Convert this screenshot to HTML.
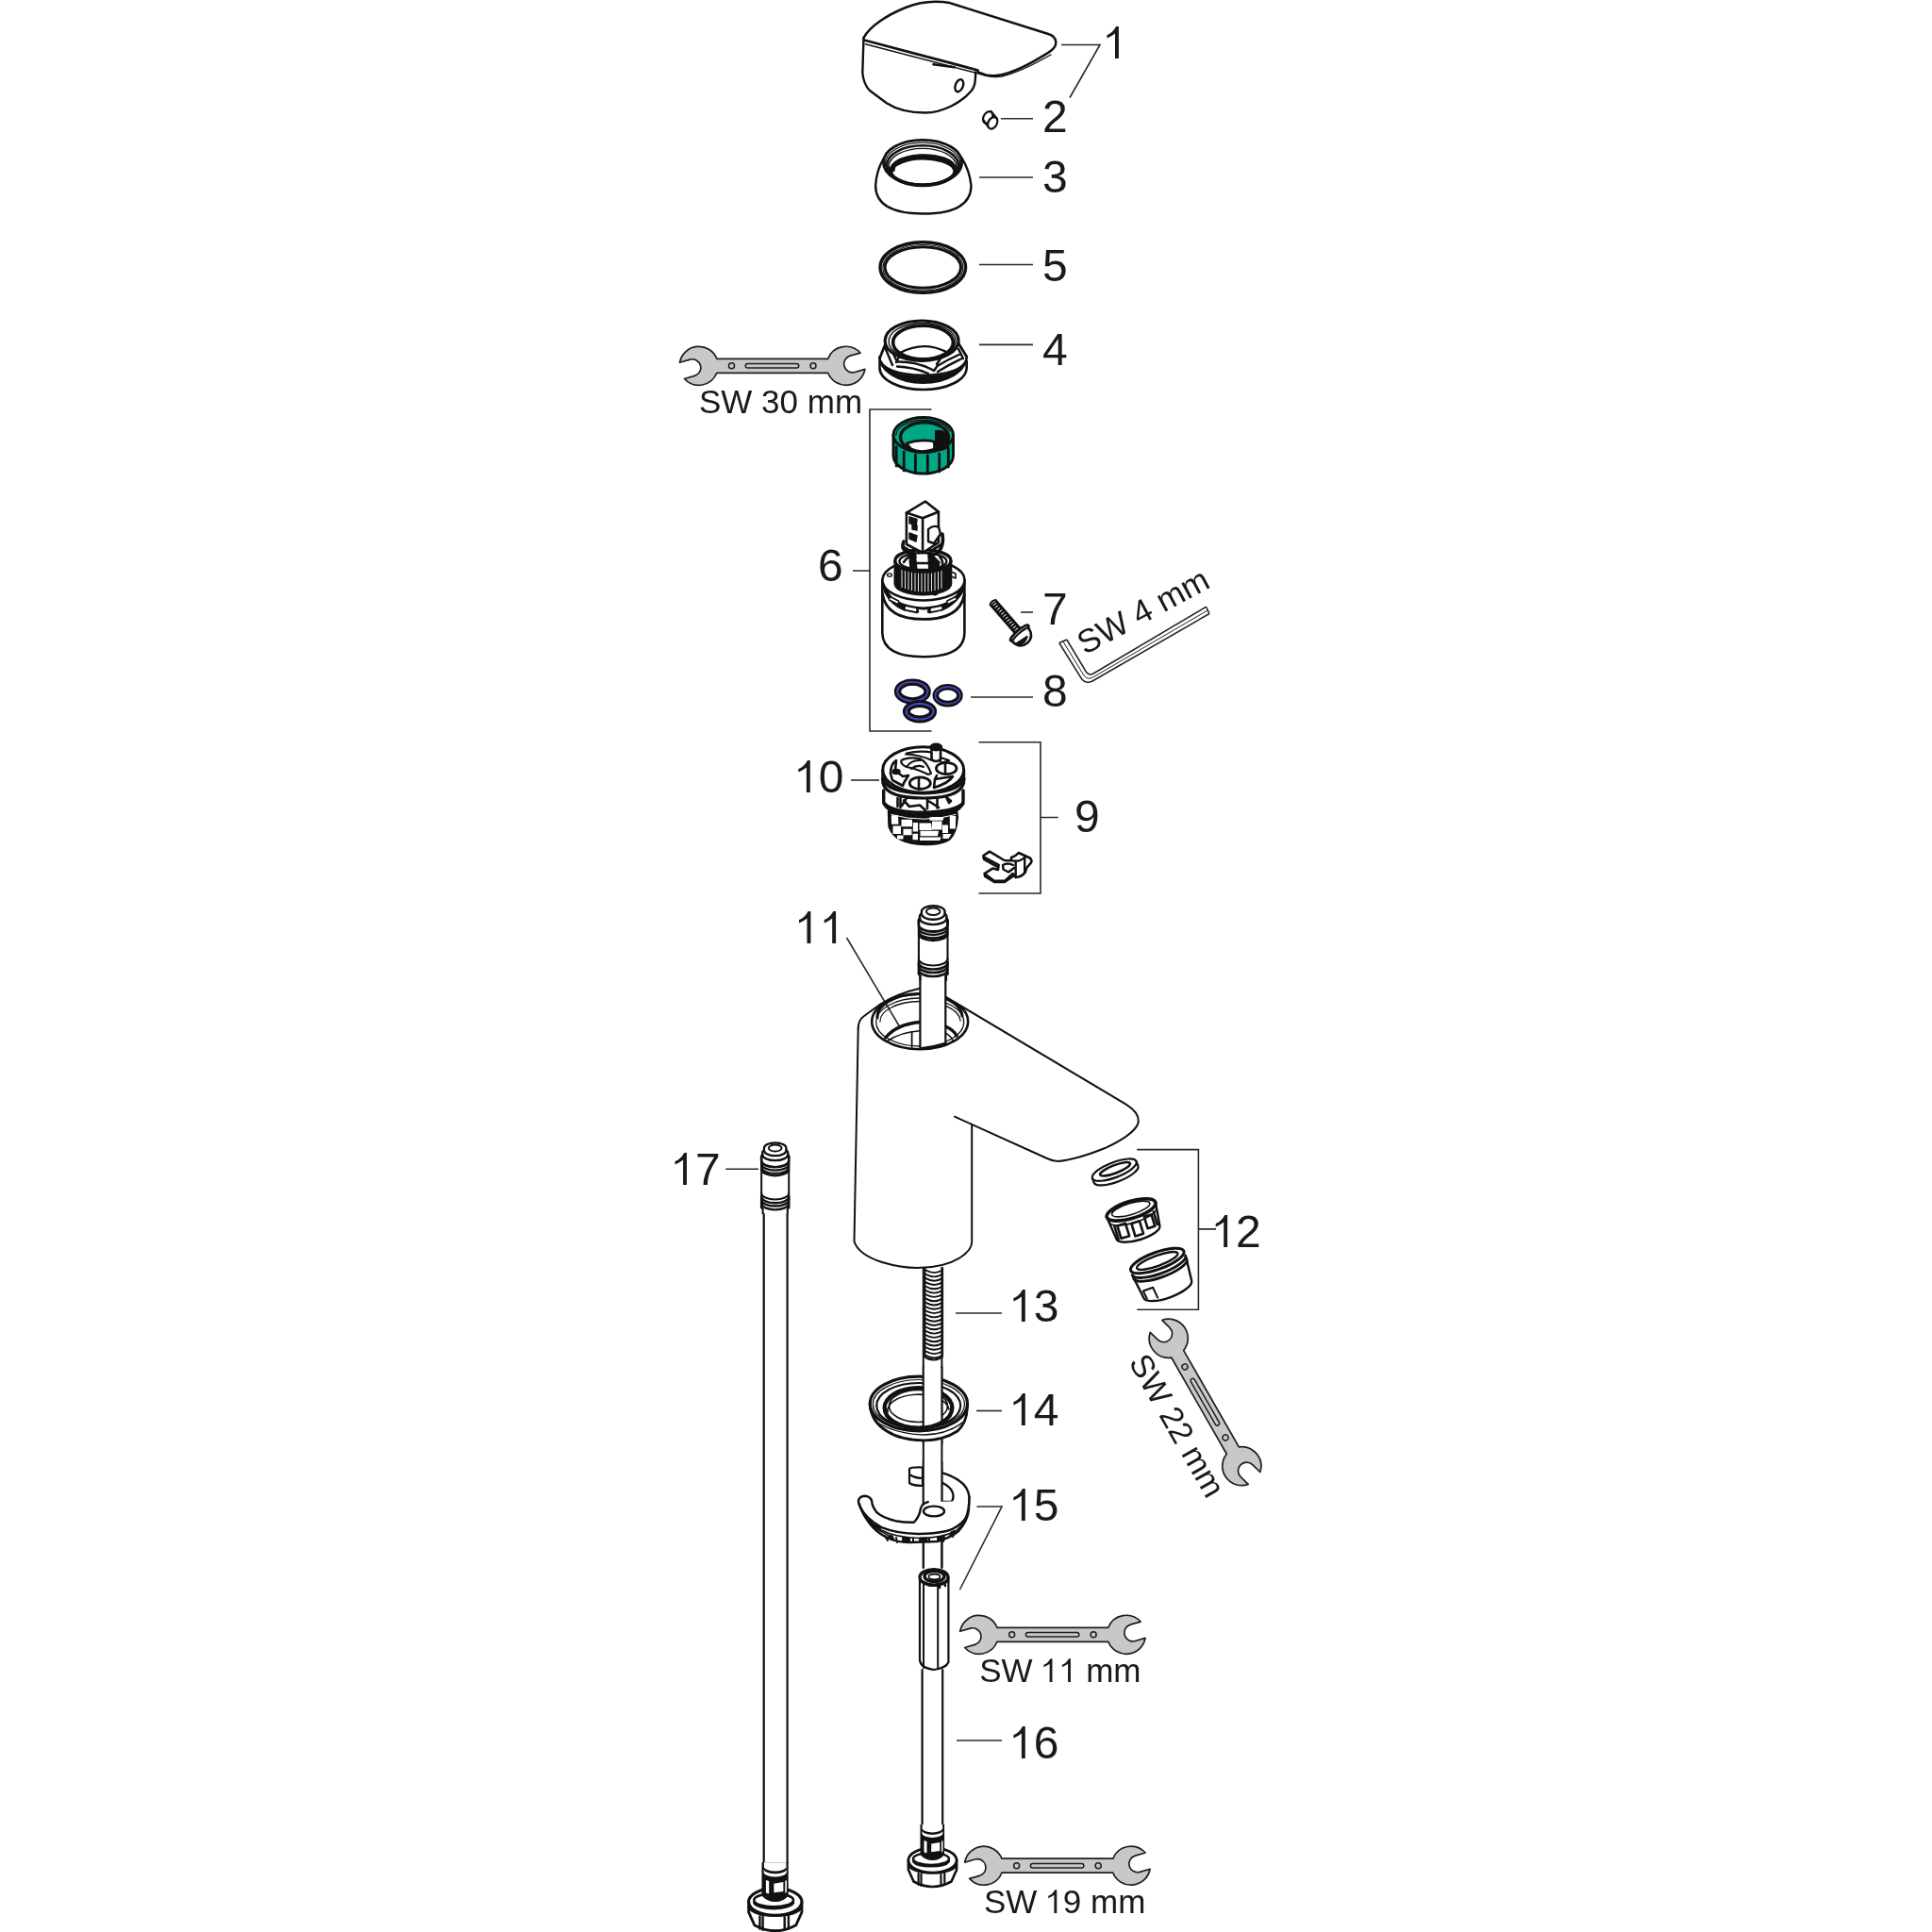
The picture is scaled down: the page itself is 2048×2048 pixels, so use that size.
<!DOCTYPE html>
<html><head><meta charset="utf-8"><style>
html,body{margin:0;padding:0;background:#fff;}
svg{display:block;will-change:transform;}
text{font-family:"Liberation Sans",sans-serif;fill:#1a1a1a;}
</style></head><body>
<svg width="2048" height="2048" viewBox="0 0 2048 2048">
<rect width="2048" height="2048" fill="#fff"/>
<path d="M3.9,0 V-34 H1.2 Q-1,-30 -4,-27.5 Q-6,-26 -8.5,-25 V-21.6 Q-5.8,-22.7 -3.2,-24.2 Q-1.2,-25.4 0,-26.5 V0 Z" transform="translate(1182.00,62) scale(1.0000)" fill="#1a1a1a"/>
<text x="1105" y="140" font-size="48" text-anchor="start" >2</text>
<text x="1105" y="204" font-size="48" text-anchor="start" >3</text>
<text x="1105" y="298" font-size="48" text-anchor="start" >5</text>
<text x="1105" y="387" font-size="48" text-anchor="start" >4</text>
<text x="867" y="616" font-size="48" text-anchor="start" >6</text>
<text x="1105" y="662" font-size="48" text-anchor="start" >7</text>
<text x="1105" y="749" font-size="48" text-anchor="start" >8</text>
<text x="1139" y="882" font-size="48" text-anchor="start" >9</text>
<path d="M3.9,0 V-34 H1.2 Q-1,-30 -4,-27.5 Q-6,-26 -8.5,-25 V-21.6 Q-5.8,-22.7 -3.2,-24.2 Q-1.2,-25.4 0,-26.5 V0 Z" transform="translate(854.90,840) scale(1.0000)" fill="#1a1a1a"/><text x="867.79" y="840" font-size="48">0</text>
<path d="M3.9,0 V-34 H1.2 Q-1,-30 -4,-27.5 Q-6,-26 -8.5,-25 V-21.6 Q-5.8,-22.7 -3.2,-24.2 Q-1.2,-25.4 0,-26.5 V0 Z" transform="translate(855.50,1000) scale(1.0000)" fill="#1a1a1a"/><path d="M3.9,0 V-34 H1.2 Q-1,-30 -4,-27.5 Q-6,-26 -8.5,-25 V-21.6 Q-5.8,-22.7 -3.2,-24.2 Q-1.2,-25.4 0,-26.5 V0 Z" transform="translate(882.19,1000) scale(1.0000)" fill="#1a1a1a"/>
<path d="M3.9,0 V-34 H1.2 Q-1,-30 -4,-27.5 Q-6,-26 -8.5,-25 V-21.6 Q-5.8,-22.7 -3.2,-24.2 Q-1.2,-25.4 0,-26.5 V0 Z" transform="translate(1297.20,1322) scale(1.0000)" fill="#1a1a1a"/><text x="1310.09" y="1322" font-size="48">2</text>
<path d="M3.9,0 V-34 H1.2 Q-1,-30 -4,-27.5 Q-6,-26 -8.5,-25 V-21.6 Q-5.8,-22.7 -3.2,-24.2 Q-1.2,-25.4 0,-26.5 V0 Z" transform="translate(1082.90,1401) scale(1.0000)" fill="#1a1a1a"/><text x="1095.79" y="1401" font-size="48">3</text>
<path d="M3.9,0 V-34 H1.2 Q-1,-30 -4,-27.5 Q-6,-26 -8.5,-25 V-21.6 Q-5.8,-22.7 -3.2,-24.2 Q-1.2,-25.4 0,-26.5 V0 Z" transform="translate(1082.90,1511) scale(1.0000)" fill="#1a1a1a"/><text x="1095.79" y="1511" font-size="48">4</text>
<path d="M3.9,0 V-34 H1.2 Q-1,-30 -4,-27.5 Q-6,-26 -8.5,-25 V-21.6 Q-5.8,-22.7 -3.2,-24.2 Q-1.2,-25.4 0,-26.5 V0 Z" transform="translate(1082.90,1612) scale(1.0000)" fill="#1a1a1a"/><text x="1095.79" y="1612" font-size="48">5</text>
<path d="M3.9,0 V-34 H1.2 Q-1,-30 -4,-27.5 Q-6,-26 -8.5,-25 V-21.6 Q-5.8,-22.7 -3.2,-24.2 Q-1.2,-25.4 0,-26.5 V0 Z" transform="translate(1082.90,1864) scale(1.0000)" fill="#1a1a1a"/><text x="1095.79" y="1864" font-size="48">6</text>
<path d="M3.9,0 V-34 H1.2 Q-1,-30 -4,-27.5 Q-6,-26 -8.5,-25 V-21.6 Q-5.8,-22.7 -3.2,-24.2 Q-1.2,-25.4 0,-26.5 V0 Z" transform="translate(724.10,1256) scale(1.0000)" fill="#1a1a1a"/><text x="736.99" y="1256" font-size="48">7</text>
<g fill="none" stroke="#2a2a2a" stroke-width="1.6"><path d="M1125,47.5 H1166 L1134,103.5"/><path d="M1061,125.7 H1095"/><path d="M1038,188 H1095"/><path d="M1038,280.5 H1095"/><path d="M1038,365.4 H1095"/><path d="M987.5,434 H922 V775 H987.5 M904,605 H922"/><path d="M1082,649 H1095"/><path d="M1029,739 H1095"/><path d="M1037.5,786.7 H1103 V947 H1037.5 M1103,866.5 H1121.7"/><path d="M902,827 H932"/><path d="M897.5,994 L954,1089"/><path d="M1205.2,1218.6 H1270.4 V1388.2 H1205.2 M1270.4,1302.9 H1289"/><path d="M1013,1392 H1062"/><path d="M1035,1495.5 H1062"/><path d="M1035.5,1597 H1062 L1017.5,1685"/><path d="M1014,1845 H1062"/><path d="M769.2,1239.3 H803.9"/></g>
<g transform="translate(740.75,387.8) rotate(0)"><path d="M-20.19,-3.57 A20.5,20.5 0 0 1 19.08,-7.50 L136.92,-7.50 A20.5,20.5 0 0 1 171.22,-13.73 L160.44,-10.64 A9.0,9.0 0 0 0 154.27,0.50 A9.0,9.0 0 0 0 165.40,6.67 L176.19,3.57 A20.5,20.5 0 0 1 136.92,7.50 L19.08,7.50 A20.5,20.5 0 0 1 -15.22,13.73 L-4.44,10.64 A9.0,9.0 0 0 0 1.73,-0.50 A9.0,9.0 0 0 0 -9.40,-6.67 Z" fill="#c8c8c8" stroke="#1e1e1e" stroke-width="1.7" stroke-linejoin="round"/><circle cx="34.75" cy="0" r="3" fill="#c8c8c8" stroke="#1e1e1e" stroke-width="1.5"/><circle cx="121.25" cy="0" r="3" fill="#c8c8c8" stroke="#1e1e1e" stroke-width="1.5"/><rect x="49.5" y="-2.3" width="56.5" height="4.6" rx="2.3" fill="#c8c8c8" stroke="#1e1e1e" stroke-width="1.5"/></g>
<g transform="translate(1037.9,1732.8) rotate(0)"><path d="M-20.19,-3.57 A20.5,20.5 0 0 1 19.08,-7.50 L136.92,-7.50 A20.5,20.5 0 0 1 171.22,-13.73 L160.44,-10.64 A9.0,9.0 0 0 0 154.27,0.50 A9.0,9.0 0 0 0 165.40,6.67 L176.19,3.57 A20.5,20.5 0 0 1 136.92,7.50 L19.08,7.50 A20.5,20.5 0 0 1 -15.22,13.73 L-4.44,10.64 A9.0,9.0 0 0 0 1.73,-0.50 A9.0,9.0 0 0 0 -9.40,-6.67 Z" fill="#c8c8c8" stroke="#1e1e1e" stroke-width="1.7" stroke-linejoin="round"/><circle cx="34.75" cy="0" r="3" fill="#c8c8c8" stroke="#1e1e1e" stroke-width="1.5"/><circle cx="121.25" cy="0" r="3" fill="#c8c8c8" stroke="#1e1e1e" stroke-width="1.5"/><rect x="49.5" y="-2.3" width="56.5" height="4.6" rx="2.3" fill="#c8c8c8" stroke="#1e1e1e" stroke-width="1.5"/></g>
<g transform="translate(1042.9,1977.7) rotate(0)"><path d="M-20.19,-3.57 A20.5,20.5 0 0 1 19.08,-7.50 L136.92,-7.50 A20.5,20.5 0 0 1 171.22,-13.73 L160.44,-10.64 A9.0,9.0 0 0 0 154.27,0.50 A9.0,9.0 0 0 0 165.40,6.67 L176.19,3.57 A20.5,20.5 0 0 1 136.92,7.50 L19.08,7.50 A20.5,20.5 0 0 1 -15.22,13.73 L-4.44,10.64 A9.0,9.0 0 0 0 1.73,-0.50 A9.0,9.0 0 0 0 -9.40,-6.67 Z" fill="#c8c8c8" stroke="#1e1e1e" stroke-width="1.7" stroke-linejoin="round"/><circle cx="34.75" cy="0" r="3" fill="#c8c8c8" stroke="#1e1e1e" stroke-width="1.5"/><circle cx="121.25" cy="0" r="3" fill="#c8c8c8" stroke="#1e1e1e" stroke-width="1.5"/><rect x="49.5" y="-2.3" width="56.5" height="4.6" rx="2.3" fill="#c8c8c8" stroke="#1e1e1e" stroke-width="1.5"/></g>
<g transform="translate(1238.75,1418.75) rotate(60.2)"><path d="M-20.19,-3.57 A20.5,20.5 0 0 1 19.08,-7.50 L136.92,-7.50 A20.5,20.5 0 0 1 171.22,-13.73 L160.44,-10.64 A9.0,9.0 0 0 0 154.27,0.50 A9.0,9.0 0 0 0 165.40,6.67 L176.19,3.57 A20.5,20.5 0 0 1 136.92,7.50 L19.08,7.50 A20.5,20.5 0 0 1 -15.22,13.73 L-4.44,10.64 A9.0,9.0 0 0 0 1.73,-0.50 A9.0,9.0 0 0 0 -9.40,-6.67 Z" fill="#c8c8c8" stroke="#1e1e1e" stroke-width="1.7" stroke-linejoin="round"/><circle cx="34.75" cy="0" r="3" fill="#c8c8c8" stroke="#1e1e1e" stroke-width="1.5"/><circle cx="121.25" cy="0" r="3" fill="#c8c8c8" stroke="#1e1e1e" stroke-width="1.5"/><rect x="49.5" y="-2.3" width="56.5" height="4.6" rx="2.3" fill="#c8c8c8" stroke="#1e1e1e" stroke-width="1.5"/></g>
<text x="741" y="438" font-size="35" text-anchor="start" >SW 30 mm</text>
<text x="1038.20" y="1783" font-size="35">SW </text><path d="M3.9,0 V-34 H1.2 Q-1,-30 -4,-27.5 Q-6,-26 -8.5,-25 V-21.6 Q-5.8,-22.7 -3.2,-24.2 Q-1.2,-25.4 0,-26.5 V0 Z" transform="translate(1112.63,1783) scale(0.7292)" fill="#1a1a1a"/><path d="M3.9,0 V-34 H1.2 Q-1,-30 -4,-27.5 Q-6,-26 -8.5,-25 V-21.6 Q-5.8,-22.7 -3.2,-24.2 Q-1.2,-25.4 0,-26.5 V0 Z" transform="translate(1132.09,1783) scale(0.7292)" fill="#1a1a1a"/><text x="1151.22" y="1783" font-size="35">mm</text>
<text x="1043.00" y="2028" font-size="35">SW </text><path d="M3.9,0 V-34 H1.2 Q-1,-30 -4,-27.5 Q-6,-26 -8.5,-25 V-21.6 Q-5.8,-22.7 -3.2,-24.2 Q-1.2,-25.4 0,-26.5 V0 Z" transform="translate(1117.43,2028) scale(0.7292)" fill="#1a1a1a"/><text x="1126.83" y="2028" font-size="35">9 mm</text>
<text x="0" y="0" font-size="34" text-anchor="start" transform="translate(1196,1444) rotate(60.2)">SW 22 mm</text>
<text x="0" y="0" font-size="34.8" text-anchor="start" transform="translate(1150,694.5) rotate(-28.3)">SW 4 mm</text>
<g fill="none" stroke="#222" stroke-width="1.5"><path d="M1122.8,681.5 L1146.5,719.5 Q1151,725.5 1158,722 L1282,650.5"/><path d="M1130.8,678 L1151.5,712.5 Q1154.5,716.5 1159,714 L1278.6,643.2"/><path d="M1122.8,681.5 L1130.8,678 M1282,650.5 L1278.6,643.2"/><path d="M1126.8,679.8 L1149,716 Q1152.8,721 1158.5,718 L1280.3,646.9" stroke-width="1"/></g>
<g fill="none" stroke="#111" stroke-width="2" stroke-linejoin="round" stroke-linecap="round"><path d="M915.5,40 C922,28 940,16 960,8 C975,2 990,0 1006.8,3.1 L1111.2,36 C1121,39 1123,49 1111.2,55.9 C1095,66 1075,77 1060.2,79.5 C1055,80.5 1050,80.5 1045,79.5 L1036.6,76.4" stroke-width="2.5"/><path d="M916,42.5 L1036.6,74.5" stroke-width="2.8"/><path d="M917.4,46.8 L1036.6,77.8 C1045,81 1055,82 1062,81 C1080,77 1100,66 1114,58" stroke-width="1.4"/><path d="M915.5,40 L914.3,77 C915,85 918,92 922,96 L939.8,109.3 C950,116 965,119.5 980.7,119.5 C1000,119.5 1020,108 1030,96 C1033,92 1034,88 1034.2,76.4" stroke-width="2.4"/><ellipse cx="1016.8" cy="90.7" rx="4" ry="6.8" transform="rotate(20 1016.8 90.7)" stroke-width="2.4"/><path d="M989.4,68.2 L1011.8,71.2" stroke-width="2.6"/><ellipse cx="1047.2" cy="124.5" rx="4.6" ry="6.8" transform="rotate(28 1047.2 124.5)" stroke-width="2.2"/><path d="M1050.5,118 L1057,126 M1042.5,127.5 L1048.5,135.5" stroke-width="2.2"/><ellipse cx="1052.2" cy="130.3" rx="4.6" ry="6.6" transform="rotate(28 1052.2 130.3)" fill="#fff" stroke-width="2.2"/><path d="M936.4,168.5 Q929,181 928.1,197 Q928.5,226.5 978.5,226.5 Q1029,226.5 1029.5,197 Q1028,181 1019.5,167.3" stroke-width="2.4"/><ellipse cx="978" cy="172.3" rx="41.6" ry="24" stroke-width="2.8"/><ellipse cx="978" cy="173.6" rx="39.6" ry="22.4" stroke-width="1.3"/><ellipse cx="978" cy="175" rx="37.8" ry="20.8" stroke-width="2.6"/><ellipse cx="978" cy="176.5" rx="35.8" ry="19.2" stroke-width="1.3"/><path d="M944,180 A36,17 0 0 1 1012,178" stroke-width="4"/><ellipse cx="978.2" cy="181" rx="33.9" ry="15.4" stroke-width="3.6"/><path d="M946.6,180 A32.5,13.5 0 0 1 1011.6,178" stroke-width="4.6"/><ellipse cx="978.3" cy="283.5" rx="45.3" ry="26.8" stroke-width="3.4"/><ellipse cx="978.3" cy="283.8" rx="42.5" ry="24.3" stroke-width="1.2"/><ellipse cx="978.3" cy="283.5" rx="40.2" ry="21.7" stroke-width="3"/><path d="M932.5,383 V390 A46.1,23 0 0 0 1024.7,390 V383" fill="#fff" stroke-width="2.6"/><path d="M932.4,378 A46.15,28 0 0 0 1024.7,378 L1024.7,381 A46.15,16.5 0 0 1 932.4,381 Z" fill="#111" stroke-width="2"/><path d="M937,385 A42,16.5 0 0 0 1020,385" stroke="#fff" stroke-width="0.8"/><path d="M932.4,378 A46.15,21 0 0 0 1024.7,378" stroke-width="2"/><path d="M938,366 L932.4,380 M1016,364 L1024.7,378" stroke-width="2.8"/><path d="M938,368 L946,387 M942,365 L951,383.5 Q970,383 986.5,391 M951,388.5 Q968,389 984,396 M986.5,391 L990,393 L993.5,388 Q1005,381 1018.5,375 M994,394 Q1007,386 1020,380 M1002,373 L993,386 M1016,370 L1021,380 M957,371 L950,384" stroke-width="2.4"/><ellipse cx="977.1" cy="361.2" rx="39" ry="21.2" fill="#fff" stroke-width="3.2"/><ellipse cx="977.6" cy="362" rx="35.5" ry="19.5" stroke-width="1.4"/><path d="M954.6,373.8 Q978.5,361 1002.4,372.7" stroke-width="2.4"/><ellipse cx="978.5" cy="362.9" rx="31.9" ry="17.8" stroke-width="3.6"/><path d="M909.7,1090 Q910,1081 916,1077 L933.5,1064.3 Q952,1053 975,1047.8" /><path d="M1002.3,1056.6 L1193.6,1170.6 Q1210,1181 1206,1192 Q1200,1204 1170.8,1217.3 Q1140,1229.5 1121.9,1231 Q1116,1231 1110,1228 L1012,1183.7" /><path d="M909.7,1090 L905.5,1316 Q910,1330 935,1338 Q955,1344 972.5,1344 Q1000,1344 1018,1333 Q1030,1325 1030.2,1317 V1191.7" /><ellipse cx="975.2" cy="1083" rx="51" ry="29.3" stroke-width="2.6"/><ellipse cx="975.2" cy="1083.5" rx="46.5" ry="25.5" stroke-width="1.3"/><path d="M930,1079 A45,24.5 0 0 1 1020,1077" stroke-width="3"/><path d="M933,1083 A42.5,21 0 0 1 1018,1082" stroke-width="1.3"/><path d="M938.7,1100 Q950,1086 974.9,1083.5" stroke-width="3.4"/><path d="M1002.3,1088 Q1011,1092 1014.2,1098" stroke-width="3.4"/><path d="M939.7,1104 Q955,1094 974.9,1092.8 M1002,1095 Q1008,1098 1010,1103" stroke-width="1.6"/><path d="M966.6,1093.8 V1110.4" stroke-width="1.8"/><path d="M975.4,1038 V1111.5 L1002.3,1106 V1038 Z" fill="#fff" stroke="none"/><path d="M975.4,1031 V1111.5 M1002.3,1031 V1106" stroke-width="2.2"/><path d="M975.4,1111.5 Q990,1110 1002.3,1106" stroke-width="2.4"/><g transform="translate(989.2,966.5) scale(1.0)"><path d="M-15.3,8 V67 H15.3 V8 Z" fill="#fff" stroke="none"/><path d="M-12.4,0 A12.4,6.3 0 0 1 12.4,0 V2 A12.4,6.3 0 0 1 -12.4,2 Z" fill="#fff" stroke-width="2.4"/><ellipse cx="0" cy="-0.3" rx="7.3" ry="3.7" stroke-width="2"/><path d="M-12.4,2 L-14.2,4 V7 A14.2,6.6 0 0 0 14.2,7 V4 L12.4,2" stroke-width="2.4"/><path d="M-14.2,7 L-15.3,9 V14 A15.3,7 0 0 0 15.3,14 V9 L14.2,7" stroke-width="2.8"/><path d="M-15.3,17.5 A15.3,7 0 0 0 15.3,17.5 M-15.3,21 A15.3,7 0 0 0 15.3,21 M-15.2,23.5 A15.2,7 0 0 0 15.2,23.5" stroke-width="2.4"/><path d="M-15.3,9 V57 M15.3,9 V57" stroke-width="2.1"/><path d="M-15.3,50 A15.3,7 0 0 0 15.3,50" stroke-width="2.1"/><path d="M-15.3,54 V66 M15.3,54 V66 M-15.3,54 A15.3,7 0 0 0 15.3,54 M-15.3,57.5 A15.3,7 0 0 0 15.3,57.5 M-15.2,61.5 A15.2,7 0 0 0 15.2,61.5" stroke-width="2.6"/><path d="M-15.2,66 L-13.8,67.5 V72.5 M15.2,66 L13.8,67.5 V72.5" stroke-width="2.2"/></g><path d="M809.7,1287 V1975 M834.6,1287 V1975" stroke-width="2.2"/><g transform="translate(821.7,1217.3) scale(0.95)"><path d="M-15.3,8 V67 H15.3 V8 Z" fill="#fff" stroke="none"/><path d="M-12.4,0 A12.4,6.3 0 0 1 12.4,0 V2 A12.4,6.3 0 0 1 -12.4,2 Z" fill="#fff" stroke-width="2.4"/><ellipse cx="0" cy="-0.3" rx="7.3" ry="3.7" stroke-width="2"/><path d="M-12.4,2 L-14.2,4 V7 A14.2,6.6 0 0 0 14.2,7 V4 L12.4,2" stroke-width="2.4"/><path d="M-14.2,7 L-15.3,9 V14 A15.3,7 0 0 0 15.3,14 V9 L14.2,7" stroke-width="2.8"/><path d="M-15.3,17.5 A15.3,7 0 0 0 15.3,17.5 M-15.3,21 A15.3,7 0 0 0 15.3,21 M-15.2,23.5 A15.2,7 0 0 0 15.2,23.5" stroke-width="2.4"/><path d="M-15.3,9 V57 M15.3,9 V57" stroke-width="2.1"/><path d="M-15.3,50 A15.3,7 0 0 0 15.3,50" stroke-width="2.1"/><path d="M-15.3,54 V66 M15.3,54 V66 M-15.3,54 A15.3,7 0 0 0 15.3,54 M-15.3,57.5 A15.3,7 0 0 0 15.3,57.5 M-15.2,61.5 A15.2,7 0 0 0 15.2,61.5" stroke-width="2.6"/><path d="M-15.2,66 L-13.8,67.5 V72.5 M15.2,66 L13.8,67.5 V72.5" stroke-width="2.2"/></g><path d="M978.8,1344 V1662 M998.4,1344 V1662" stroke-width="2"/><path d="M981.5,1346.5 Q990.2,1351.7 999,1346.5 M981.5,1350.8 Q990.2,1356.0 999,1350.8 M981.5,1355.1 Q990.2,1360.3 999,1355.1 M981.5,1359.4 Q990.2,1364.6 999,1359.4 M981.5,1363.7 Q990.2,1368.9 999,1363.7 M981.5,1368.0 Q990.2,1373.2 999,1368.0 M981.5,1372.3 Q990.2,1377.5 999,1372.3 M981.5,1376.6 Q990.2,1381.8 999,1376.6 M981.5,1380.9 Q990.2,1386.1 999,1380.9 M981.5,1385.2 Q990.2,1390.4 999,1385.2 M981.5,1389.5 Q990.2,1394.7 999,1389.5 M981.5,1393.8 Q990.2,1399.0 999,1393.8 M981.5,1398.1 Q990.2,1403.3 999,1398.1 M981.5,1402.4 Q990.2,1407.6 999,1402.4 M981.5,1406.7 Q990.2,1411.9 999,1406.7 M981.5,1411.0 Q990.2,1416.2 999,1411.0 M981.5,1415.3 Q990.2,1420.5 999,1415.3 M981.5,1419.6 Q990.2,1424.8 999,1419.6 M981.5,1423.9 Q990.2,1429.1 999,1423.9 M981.5,1428.2 Q990.2,1433.4 999,1428.2 M981.5,1432.5 Q990.2,1437.7 999,1432.5 M981.5,1436.8 Q990.2,1442.0 999,1436.8 " stroke-width="1.9"/><path d="M980.4,1344 V1438 Q983,1441 990,1441.5 Q996,1441 999,1438 V1344" stroke-width="2.2"/><path d="M975,1672 V1760 Q976,1768 990,1770 Q1003,1768 1005.4,1762 V1672" fill="#fff" stroke-width="2.2"/><path d="M979,1678 V1768 M994.2,1682 V1768" stroke-width="2"/><ellipse cx="990" cy="1672" rx="15" ry="8.5" fill="#fff" stroke-width="3.2"/><ellipse cx="990.5" cy="1671" rx="10.5" ry="5.5" stroke-width="3.4"/><ellipse cx="990.5" cy="1671.5" rx="6" ry="2.8" stroke-width="1.8"/><path d="M975.5,1675 Q990,1684 1005,1676 M996,1680 v3 M1001,1678 l1,3" stroke-width="2.6"/><path d="M977.6,1770 V1934 M999.2,1770 V1934" stroke-width="2.2"/><g transform="translate(988.5,1972) scale(1.0)"><path d="M-25.6,0 V10 L-20,22.5 Q-10,28 0,28 Q10,28 20,22.5 L25.6,10 V0 Z" fill="#fff" stroke-width="2.6"/><ellipse cx="0" cy="0" rx="25.6" ry="13.1" fill="#fff" stroke-width="2.8"/><path d="M-25.6,5 Q-22,13 0,13.5 Q22,13 25.6,5 M-14.9,14 V26 M-12,14.5 V27 M9,14.5 V27 M12.8,14 V26" stroke-width="2.2"/><ellipse cx="-1.5" cy="-1.6" rx="19" ry="6.5" stroke-width="2.4"/><path d="M-20,1 A19,6.5 0 0 0 17,1" stroke-width="3.2"/><path d="M-13,-38 V-6 Q-8,0 0,0 Q8,0 12.6,-6 V-38 Z" fill="#111" stroke="none"/><path d="M-10.8,-38 V-33.5 A10.8,4.5 0 0 0 10.6,-33.5 V-38 Z" fill="#fff" stroke="none"/><path d="M-11,-31 A11,4.5 0 0 0 10.8,-31 L10.8,-28 A11,4.5 0 0 1 -11,-28 Z" fill="#fff" stroke="none"/><path d="M-9,-21 L-6,-20 V-8 Q-8,-7.5 -9,-9 Z M-1.3,-17.4 L7.8,-19 V-10 L-1.3,-8.8 Z M9.5,-20 L11,-21 V-10 L9.5,-8 Z" fill="#fff" stroke="none"/></g><g transform="translate(821.8,2016) scale(1.1)"><path d="M-25.6,0 V10 L-20,22.5 Q-10,28 0,28 Q10,28 20,22.5 L25.6,10 V0 Z" fill="#fff" stroke-width="2.6"/><ellipse cx="0" cy="0" rx="25.6" ry="13.1" fill="#fff" stroke-width="2.8"/><path d="M-25.6,5 Q-22,13 0,13.5 Q22,13 25.6,5 M-14.9,14 V26 M-12,14.5 V27 M9,14.5 V27 M12.8,14 V26" stroke-width="2.2"/><ellipse cx="-1.5" cy="-1.6" rx="19" ry="6.5" stroke-width="2.4"/><path d="M-20,1 A19,6.5 0 0 0 17,1" stroke-width="3.2"/><path d="M-13,-38 V-6 Q-8,0 0,0 Q8,0 12.6,-6 V-38 Z" fill="#111" stroke="none"/><path d="M-10.8,-38 V-33.5 A10.8,4.5 0 0 0 10.6,-33.5 V-38 Z" fill="#fff" stroke="none"/><path d="M-11,-31 A11,4.5 0 0 0 10.8,-31 L10.8,-28 A11,4.5 0 0 1 -11,-28 Z" fill="#fff" stroke="none"/><path d="M-9,-21 L-6,-20 V-8 Q-8,-7.5 -9,-9 Z M-1.3,-17.4 L7.8,-19 V-10 L-1.3,-8.8 Z M9.5,-20 L11,-21 V-10 L9.5,-8 Z" fill="#fff" stroke="none"/></g><path d="M947,461 V483 A31.75,19 0 0 0 1010.5,483 V461 Z" fill="#00a887" stroke-width="2.9"/><ellipse cx="978.75" cy="461" rx="31.75" ry="18.5" fill="#00a887" stroke-width="2.9"/><ellipse cx="980" cy="463.5" rx="25.5" ry="15.8" fill="#00a887" stroke-width="3.4"/><path d="M950,461 A29,16 0 0 1 1007,457" stroke-width="1.2"/><path d="M961,470 Q975,465 990,468 L991,476 Q976,481 966,476 Z" fill="#fff" stroke-width="2.6"/><path d="M992,457 Q1000,456 1006,462 L1005,474 Q998,479 990,476 L992,466 Z" fill="#111" stroke-width="2"/><path d="M950.2,474 V494 M958.2,479 V499 M970.4,482 V501.5 M983.3,483 V502 M995.7,481 V500 M1005.3,475 V495" stroke-width="2.8"/><path d="M935.3,614.5 V671 Q936,696.2 978.9,696.2 Q1022,696.2 1022.4,671 V614.5" fill="#fff" stroke-width="2.6"/><path d="M935.5,630 Q940,656.4 978.9,656.4 Q1018,656.4 1022.2,630" stroke-width="2.8"/><ellipse cx="978.9" cy="615" rx="43.6" ry="21.5" fill="#fff" stroke-width="2.6"/><path d="M936,619 Q942,643 978.9,645 Q1016,643 1022,619" stroke-width="3"/><path d="M939,627 Q946,640 958,645 L972,648 M985,648 L999,645 Q1011,640 1019,627" stroke-width="4.5"/><path d="M942.5,632 l10,5 v4 l-10,-5 z M959,642 l13,2.5 v4.5 l-13,-2.5 z M986,644.5 l13,-2.5 v4.5 l-13,2.5 z M1004,637 l10,-5 v4 l-10,5 z" fill="#fff" stroke-width="1.6"/><ellipse cx="943" cy="609.5" rx="2.4" ry="1.6" stroke-width="1.4"/><ellipse cx="991" cy="629" rx="2.6" ry="1.7" stroke-width="1.4"/><path d="M1008,606 l5,2 v5 l-5,-2 z" fill="#fff" stroke-width="1.6"/><path d="M948.8,594.4 V618.7 A29.6,11.6 0 0 0 1008,618.7 V594.4 Z" fill="#111" stroke-width="2.6"/><path d="M956.0,603.6 V622.4 M959.5,604.6 V623.7 M963.0,605.4 V624.8 M966.5,606.0 V625.7 M970.0,606.5 V626.4 M973.5,606.8 V626.8 M977.0,607.0 V627.0 M980.5,607.0 V627.0 M984.0,606.8 V626.7 M987.5,606.4 V626.2 M991.0,605.9 V625.6 M994.5,605.2 V624.6 M998.0,604.4 V623.5 " stroke="#fff" stroke-width="0.9"/><ellipse cx="978.4" cy="594.4" rx="29.6" ry="11.6" fill="#fff" stroke-width="3.4"/><ellipse cx="978.4" cy="595" rx="25" ry="9" stroke-width="2.4"/><path d="M964,588 L970,586 L972,606 L965,604 Z M984,586 L989,586 L990,606 L985,607 Z" fill="#111" stroke-width="1.6"/><path d="M958,596 Q962,590 966,589 M960,602 L966,604 M996,590 Q1000,594 999,600 M972,597 L984,597" stroke-width="2.6"/><path d="M990,590 L996,596 L994,605 L990,606 Z" fill="#111" stroke-width="1.4"/><path d="M960.9,543.6 L980.9,531.5 L994.9,542.5 V575 L978.1,586 L960.9,577 Z" fill="#fff" stroke-width="2.6"/><path d="M960.9,543.6 L978.1,549.2 L994.9,542.5 M978.1,549.2 V586" stroke-width="2.6"/><path d="M964,548 l8,2.5 l-1,7 l-7,-3 z M967,556 l5,1 v5 l-5,-1 z M964,565 l8,3 l-1,6 l-7,-3 z" fill="#111" stroke-width="1.5"/><path d="M984,561 Q989,556 995,559 L997,566 L990,576 L984,574 Z" fill="#fff" stroke-width="2.4"/><path d="M958,574 Q955,581 960,584 L970,590 M999,566 Q1001,578 995,585 L988,589" stroke-width="3.6"/><path d="M958,580 l10,6 M990,582 l8,-5" stroke-width="3"/><g transform="translate(1052.5,638.5) rotate(49)"><path d="M0,-3.8 H40 M0,3.8 H40 M0,-3.8 Q-2.5,0 0,3.8" stroke-width="2.2"/><ellipse cx="2.8" cy="0" rx="1.5" ry="3.2" stroke-width="1.9"/><ellipse cx="6.0" cy="0" rx="1.5" ry="3.2" stroke-width="1.9"/><ellipse cx="9.2" cy="0" rx="1.5" ry="3.2" stroke-width="1.9"/><ellipse cx="12.4" cy="0" rx="1.5" ry="3.2" stroke-width="1.9"/><ellipse cx="15.6" cy="0" rx="1.5" ry="3.2" stroke-width="1.9"/><ellipse cx="18.8" cy="0" rx="1.5" ry="3.2" stroke-width="1.9"/><ellipse cx="22.0" cy="0" rx="1.5" ry="3.2" stroke-width="1.9"/><ellipse cx="25.2" cy="0" rx="1.5" ry="3.2" stroke-width="1.9"/><ellipse cx="28.4" cy="0" rx="1.5" ry="3.2" stroke-width="1.9"/><ellipse cx="31.6" cy="0" rx="1.5" ry="3.2" stroke-width="1.9"/><ellipse cx="34.8" cy="0" rx="1.5" ry="3.2" stroke-width="1.9"/><ellipse cx="38.0" cy="0" rx="1.5" ry="3.2" stroke-width="1.9"/><path d="M40,-4.5 V4.5" stroke-width="2.8"/><ellipse cx="43" cy="0" rx="3" ry="12.5" fill="#fff" stroke-width="2.6"/><ellipse cx="45.8" cy="0.5" rx="2.8" ry="11.5" fill="#fff" stroke-width="2.2"/><path d="M46.5,-10.5 Q56,-9 56.5,0.5 Q56,10.5 46.5,11.5" fill="#fff" stroke-width="2.6"/><path d="M51,-4 Q55,0 53,8 L49,10.5 Z" fill="#111" stroke-width="1.4"/></g><ellipse cx="967.3" cy="733" rx="15.8" ry="9.9" stroke="#111" stroke-width="7.4"/><ellipse cx="967.3" cy="733" rx="16.1" ry="10.1" stroke="#4444bb" stroke-width="1.9"/><ellipse cx="1004.6" cy="737.2" rx="12.8" ry="8.9" stroke="#111" stroke-width="6.6"/><ellipse cx="1004.6" cy="737.2" rx="13.2" ry="9.1" stroke="#4444bb" stroke-width="1.7"/><ellipse cx="975" cy="754.2" rx="14.1" ry="8.2" stroke="#111" stroke-width="8.0"/><ellipse cx="975" cy="754.2" rx="14.4" ry="8.3" stroke="#4444bb" stroke-width="2.1"/><path d="M942,860 L942.5,876 Q946,886 955,890 Q965,895 979,895 Q1000,895 1007,889 Q1014,882 1014.9,866 L1014,860 Z" fill="#111" stroke-width="2.4"/><path d="M944.8,864.2 h7.2 l0.5,9.5 h-7.5 z M955.5,868.8 h11.5 v7.5 h-11.5 z M967.8,872 h5.2 v9.5 h-5.2 z M957.5,878.8 h9 v6.5 h-9 z M946.5,875.5 h8.5 v8.5 h-8.5 z M951,885.5 h6.5 v4 h-6.5 z M967.5,883.8 h5.5 v6.5 h-5.5 z M974.5,872.5 h12.5 l1,7.5 h-13.5 z M975.5,880.8 h19.5 l-1,5.5 h-18.5 z M975,887.5 h23 l-2,3.5 h-21 z M988,870.5 h10.5 v9 h-10.5 z M985.5,866 h15 l-1,3.8 h-14 z M999,874.5 h6 v8.5 h-6 z M1006.8,865 h6.5 l-0.5,13.5 h-6 z M999.5,884 h9 l-3,5 h-6 z" fill="#fff" stroke="none"/><path d="M945,863.5 Q979,873 1013,863.5" stroke="#fff" stroke-width="1"/><path d="M936.7,838 V850 Q940,864.5 979,864.5 Q1018,864.5 1021,850 V838" fill="#fff" stroke-width="3.4"/><path d="M937.5,852 Q946,861 979,861.5 Q1012,861 1020.5,852" stroke-width="4"/><path d="M951.5,846 V855 M954.5,846 V856 M983,847 V857 M993.5,847 V856.5 M958,848.5 L964,855 L975,853.5 L981,859 M985,849.5 L995,856 M961,846 L956,854" stroke-width="2.6"/><path d="M1003,845 L1008,849 L1006,851 Z" fill="#111" stroke-width="2.6"/><path d="M935.9,816 V830 Q940,846 978.7,846 Q1017,846 1021.6,830 V816" fill="#fff" stroke-width="3.2"/><path d="M936,826 Q942,840 978.7,840.5 Q1015,840 1021.5,826" stroke-width="4.2"/><ellipse cx="978.7" cy="816" rx="42.9" ry="24.2" fill="#fff" stroke-width="3"/><ellipse cx="1003.2" cy="814.5" rx="10.8" ry="6.2" stroke-width="2.8"/><path d="M1002,808.5 V820.5" stroke-width="2.6"/><ellipse cx="975.3" cy="830.2" rx="11" ry="6.3" stroke-width="2.8"/><path d="M974,824 V836.5" stroke-width="2.6"/><path d="M955.5,806 Q962,802 975,804 Q983,808 987,820 L984,821 Q972,815 961,813 Q954,810 955.5,806 Z" stroke-width="2.2"/><path d="M961,813 Q966,805 976,806 M966,815 Q972,810 979,813" stroke-width="2"/><path d="M961,798.5 Q975,795 990,798 Q995,806 998,808 M960,799.5 Q975,800 988,806" stroke-width="2.2"/><path d="M944,820 Q944,810 950,806 L949,817 L957,823 L963,822 L958,830 L957,833 L946,827 Z" stroke-width="2.6"/><ellipse cx="950" cy="818" rx="4" ry="2.6" fill="#111" stroke-width="1.4"/><path d="M991,826 L1010,823 Q1006,830 990,835 Z M991,826 L993,822" stroke-width="2.6"/><path d="M987.5,792 V805 Q992,809 997,805 V792" fill="#fff" stroke-width="2.6"/><ellipse cx="992.3" cy="792" rx="6" ry="3.5" fill="#111" stroke-width="2"/><path d="M997,803 L1006,806 L998,809" stroke-width="2.2"/><path d="M1042.4,907 L1049,902.7 L1064.6,912 L1072,912.2 V909 Q1077,907.5 1079.8,904 L1092.2,909.8 Q1094.5,913 1092.5,915.2 L1088.2,920 L1086.8,924.6 Q1083,929.5 1076.7,930 L1073.7,926 L1065.3,933.7 H1053.8 L1043.7,926 L1052.2,920.6 L1057.9,922 L1058.6,917 L1042.7,908.5 Z" fill="#fff" stroke-width="2.6"/><path d="M1042.7,909 L1043,911 L1058,919.5 M1043.7,926 L1044,929 L1054,935 H1065 L1073.7,929 M1063,917 Q1068,914 1074,917 M1063,917 L1063.5,921.5 L1069,924.5 L1075,920 M1076.7,912.5 V930 M1086.2,908 V925 M1072,912 Q1080,915 1087,908" stroke-width="2.4"/><ellipse cx="973.9" cy="1488" rx="51.6" ry="28.8" stroke-width="3.2"/><ellipse cx="973.9" cy="1488.5" rx="48.5" ry="26" stroke-width="1.2"/><ellipse cx="973.7" cy="1490" rx="44.5" ry="24" stroke-width="2.2"/><ellipse cx="973.5" cy="1492.5" rx="35.9" ry="21.4" stroke-width="4.2"/><ellipse cx="973.5" cy="1490.5" rx="31" ry="17" stroke-width="1.6"/><path d="M941,1497 A30,16 0 0 1 1006,1494" stroke-width="1.6"/><path d="M978.8,1450 V1530 H998.4 V1450 Z" fill="#fff" stroke="none"/><path d="M978.8,1449 V1530 M998.4,1449 V1530" stroke-width="2"/><path d="M922.3,1488 Q923,1505 940,1517 Q955,1526.8 979.7,1526.8 Q1000,1526.8 1015,1517 Q1025.5,1508 1025.5,1488 L1009.4,1492.5 A35.9,21.4 0 0 1 937.6,1492.5 Z" fill="#fff" stroke="none"/><path d="M922.3,1488 A51.6,28.8 0 0 0 1025.5,1488" stroke-width="3.2"/><path d="M925.4,1488.5 A48.5,26 0 0 0 1022.4,1488.5" stroke-width="1.2"/><path d="M929.2,1490 A44.5,24 0 0 0 1018.2,1490" stroke-width="2.2"/><path d="M937.6,1492.5 A35.9,21.4 0 0 0 1009.4,1492.5" stroke-width="4.2"/><path d="M922.5,1492 Q925,1508 940,1517 Q955,1526.8 979.7,1526.8 Q1000,1526.8 1015,1517 Q1025,1508 1025.3,1492" stroke-width="2.8"/><path d="M930,1508 Q950,1520 979.7,1521 Q1005,1520 1020,1508" stroke-width="1.4"/><path d="M964,1557 Q966,1555 978,1555.5 V1575 Q968,1575 964,1572 Z M964,1563 Q970,1567 978,1567" fill="#fff" stroke-width="2.2"/><path d="M999.9,1561.6 Q1026,1570 1027.4,1586.7 L1026.9,1600.4" stroke-width="2.4"/><path d="M999.4,1572 Q1007,1576 1009.2,1580.8 Q1011.8,1586 1009.2,1591.6 L983.7,1592.1" stroke-width="2.4"/><path d="M978.8,1550 V1596 H998.4 V1550 Z" fill="#fff" stroke="none"/><path d="M978.8,1550 V1596 M998.4,1550 V1596" stroke-width="2"/><path d="M983.7,1592.1 Q977,1594 975.8,1599.5 Q975,1607 968.9,1613.7 Q960,1614 949.2,1612.2 Q936,1609 929.6,1603.4 Q924.5,1597 924.2,1591.6 Q923.5,1586.5 916.8,1585.7 Q910.5,1586 909.9,1591.6 L910.9,1597.5 Q920,1620 940.4,1630 Q950,1635 964,1635 L993.5,1634 Q1008,1630 1016.1,1623 Q1026,1612 1026.9,1600.4 L1027.4,1586.7 L1009.2,1591.6 Z" fill="#fff" stroke="none"/><path d="M983.7,1592.1 Q977,1594 975.8,1599.5 Q975,1607 968.9,1613.7 Q960,1614 949.2,1612.2 Q936,1609 929.6,1603.4 Q924.5,1597 924.2,1591.6 Q923.5,1586.5 916.8,1585.7 Q910.5,1586 909.9,1591.6 L911.9,1597.5 Q918,1610 934.5,1619.1 Q950,1625.5 973.8,1626 Q990,1626 1003.3,1623 Q1015,1620 1023,1610.3 Q1027.4,1603 1027.4,1586.7" stroke-width="2.4"/><path d="M910.5,1594 Q920,1620 940.4,1630 Q950,1635 964,1635 L993.5,1634 Q1008,1630 1016.1,1623 Q1026,1612 1026.9,1600.4" stroke-width="2.4"/><path d="M915,1605 Q925,1620 940,1626.5" stroke-width="1.4"/><ellipse cx="990" cy="1602" rx="11" ry="5.4" fill="#fff" stroke-width="2.4"/><path d="M938,1628 l3,5 M950,1630 l1,5 M964,1631 v4 M968,1631 v4 M985,1631 v3.5 M1001,1629 l-1,5 M1012,1624 l-2,5 M926,1619 l3,4" stroke-width="2"/><path d="M940,1627 l4,5 h4 l-2,-4 z M957,1629.5 h6 v4 h-6 z M975,1630 h8 v3.5 h-8 z M994,1628.5 h6 l-1,4 h-5 z M1008,1624 l4,-2 l-1,4 l-4,2 z M928,1617 l4,4 l2,-1 l-3,-4 z" fill="#111" stroke-width="1"/><path d="M913,1600 Q921,1614 934,1622 Q950,1630 975,1630.5 Q1000,1630 1013,1623 Q1024,1614 1026.5,1602" stroke-width="1.6"/><path d="M978.8,1634.5 V1662 M998.4,1634 V1662" stroke-width="2"/><g transform="translate(1182,1242) rotate(-21)"><ellipse cx="0" cy="-2" rx="25" ry="8" fill="#fff" stroke-width="2.2"/><ellipse cx="1" cy="-2.5" rx="17" ry="4.2" stroke-width="2.6"/><path d="M-25,-2 V3 A25,8 0 0 0 25,3 V-2" stroke-width="2.2"/></g><g transform="translate(1202,1292) rotate(-17)"><path d="M-27,-10 L-24,15 A24,8 0 0 0 24,15 L27,-10" fill="#fff" stroke-width="2.4"/><ellipse cx="0" cy="-10" rx="27" ry="9" fill="#fff" stroke-width="3.6"/><ellipse cx="0" cy="-11" rx="21" ry="6" stroke-width="1.6"/><path d="M-26,-4 A26,8 0 0 0 26,-4" stroke-width="1.6"/><path d="M-19,2 h9 v14 h-9 z M-4,4 h9 v14 h-9 z M11,1 h8 v13 h-8 z M-22,1 v15 M22,-1 v14" stroke-width="2.6"/></g><g transform="translate(1229.5,1344) rotate(-20)"><path d="M-30,-2 L-27,24 A27,9 0 0 0 27,24 L30,-2" fill="#fff" stroke-width="2.4"/><ellipse cx="0" cy="-8" rx="30" ry="9" fill="#fff" stroke-width="3"/><ellipse cx="0" cy="-8" rx="23" ry="5.5" stroke-width="2.4"/><path d="M-30,-3 A30,9 0 0 0 30,-3 M-30,1 A30,9 0 0 0 30,1" stroke-width="2.8"/><path d="M-24,26 L-25,17 L-14,17 L-13,29" stroke-width="2"/></g></g>
</svg></body></html>
